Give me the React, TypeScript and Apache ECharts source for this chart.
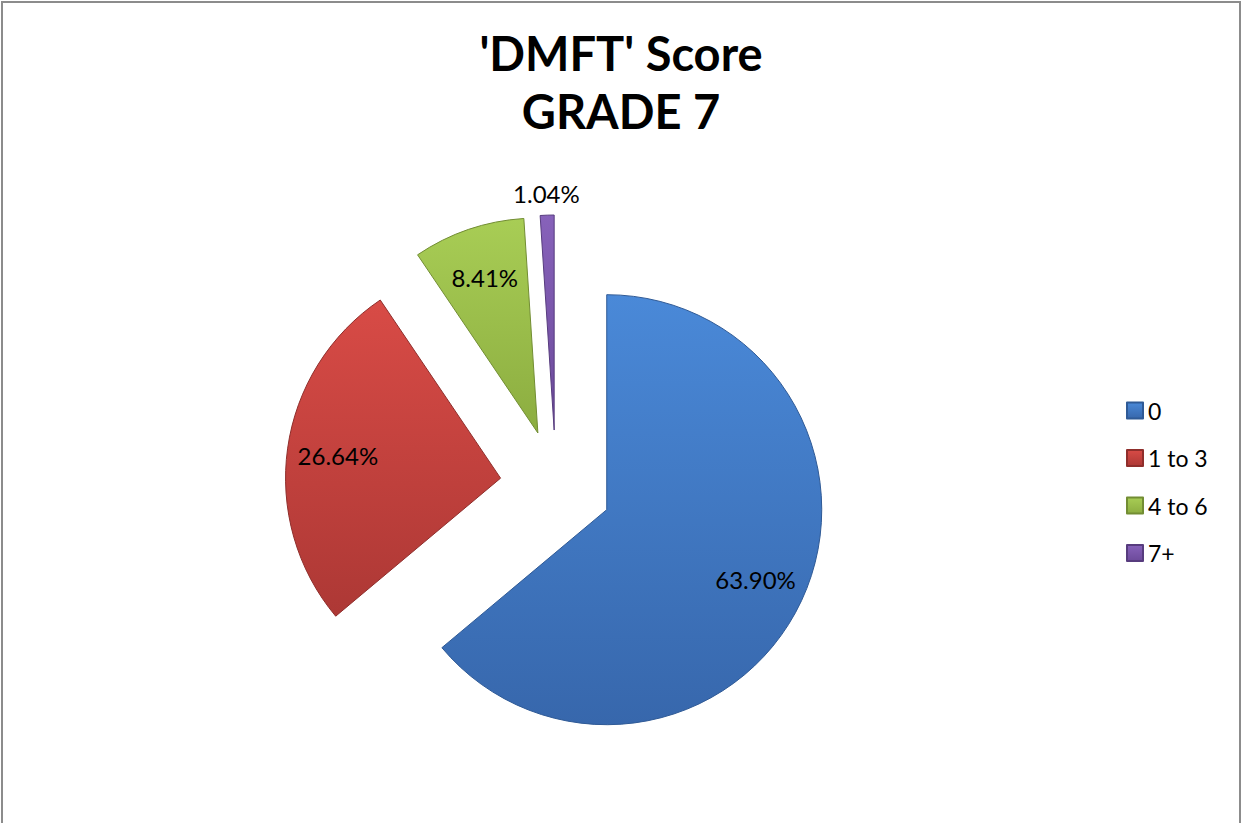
import React, { useEffect, useRef } from "react";
import * as echarts from "echarts";

const categories = ["0", "1 to 3", "4 to 6", "7+"];
const values = [63.9, 26.64, 8.41, 1.04];
const labels = ["63.90%", "26.64%", "8.41%", "1.04%"];
const outsideLabel = [false, false, false, true];
const colorsTop = ["#4a89d8", "#d84b46", "#a8cd55", "#8762ba"];
const colorsBottom = ["#3767ac", "#ad3835", "#8cad40", "#6c4a9a"];
const edgeColors = ["#2f5a96", "#8f2e2b", "#728d33", "#573c7e"];

export default function App() {
  const ref = useRef<HTMLDivElement>(null);
  useEffect(() => {
    document.body.style.margin = "0";
    if (!ref.current) return;
    const chart = echarts.init(ref.current, null, { renderer: "svg" });
    const grad = (i: number) =>
      new echarts.graphic.LinearGradient(0, 0, 0, 1, [
        { offset: 0, color: colorsTop[i] },
        { offset: 1, color: colorsBottom[i] },
      ]);
    const center = [556, 486];
    const R = 215;
    const offset = 56;
    const labelStyle = {
      position: "inside",
      fontFamily: "Lato",
      fontSize: 24,
      color: "#000000",
      formatter: (p: any) => labels[p.dataIndex],
    };
    const labelSeries = (radius: number[], outside: boolean) => ({
      type: "pie",
      center,
      radius,
      startAngle: 90,
      clockwise: true,
      selectedMode: "multiple",
      selectedOffset: offset,
      silent: true,
      emphasis: { disabled: true },
      labelLine: { show: false },
      label: { show: true, ...labelStyle },
      data: categories.map((name, i) => ({
        name,
        value: values[i],
        selected: true,
        itemStyle: { color: "rgba(0,0,0,0)", borderWidth: 0 },
        label: { show: outsideLabel[i] === outside },
      })),
    });
    chart.setOption({
      animation: false,
      backgroundColor: "#ffffff",
      title: {
        text: "'DMFT' Score\nGRADE 7",
        left: "center",
        top: 19,
        textStyle: {
          fontFamily: "Lato",
          fontWeight: "bold",
          fontSize: 47,
          lineHeight: 58,
          color: "#000000",
        },
      },
      legend: {
        orient: "vertical",
        left: 1126,
        top: 399,
        padding: 0,
        itemWidth: 16,
        itemHeight: 16,
        itemGap: 24.5,
        icon: "rect",
        selectedMode: false,
        data: categories,
        textStyle: {
          fontFamily: "Lato",
          fontSize: 23,
          lineHeight: 22,
          color: "#000000",
        },
      },
      graphic: [
        {
          type: "rect",
          shape: { x: 2, y: 2, width: 1238, height: 860 },
          style: { fill: "none", stroke: "#8c8c8c", lineWidth: 2 },
          silent: true,
          z: -1,
        },
      ],
      series: [
        {
          type: "pie",
          center,
          radius: [0, R],
          startAngle: 90,
          clockwise: true,
          selectedMode: "multiple",
          selectedOffset: offset,
          silent: true,
          label: { show: false },
          labelLine: { show: false },
          emphasis: { disabled: true },
          data: categories.map((name, i) => ({
            name,
            value: values[i],
            selected: true,
            itemStyle: {
              color: grad(i),
              borderColor: edgeColors[i],
              borderWidth: 1,
            },
          })),
        },
        labelSeries([R * 0.5, R], false),
        labelSeries([R, R + 38], true),
      ],
    });
    return () => chart.dispose();
  }, []);
  return <div ref={ref} style={{ width: 1242, height: 823 }} />;
}
